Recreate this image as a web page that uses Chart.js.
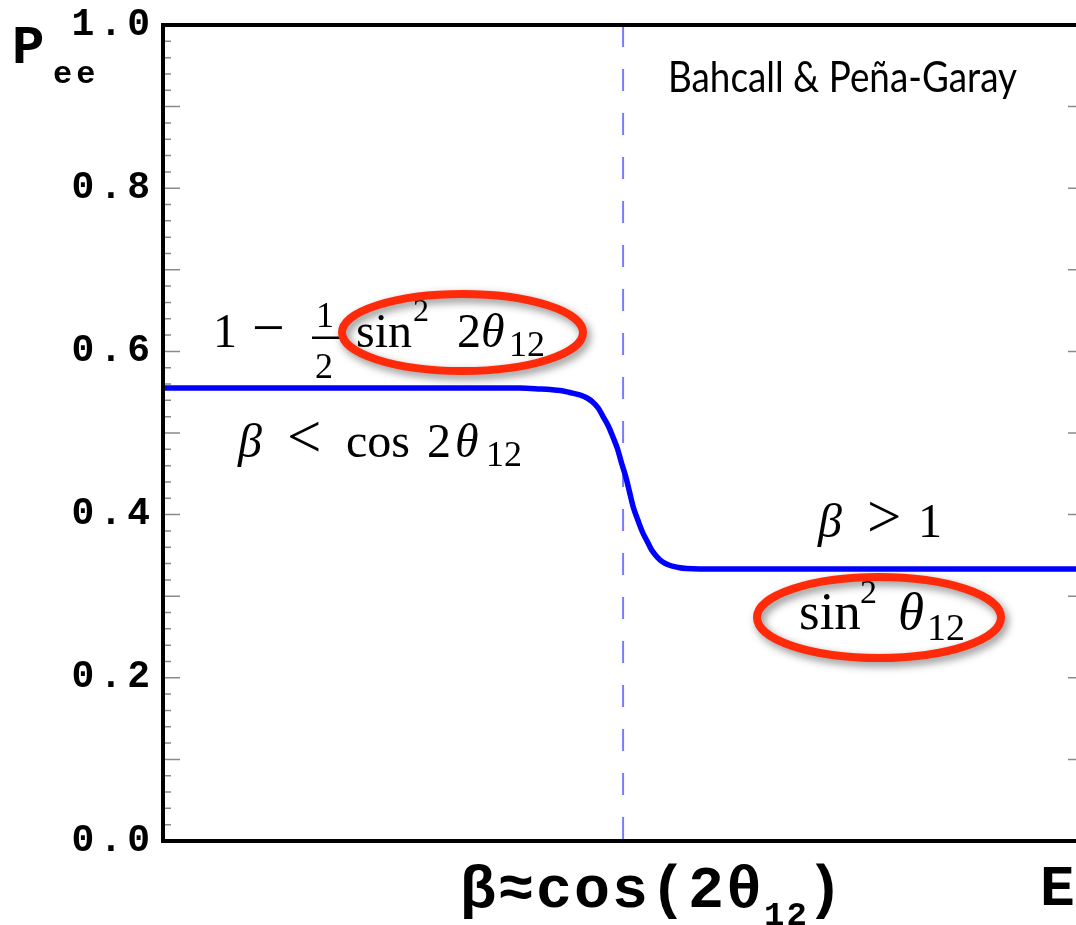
<!DOCTYPE html>
<html>
<head>
<meta charset="utf-8">
<script src="https://cdn.jsdelivr.net/npm/chart.js@4.4.1/dist/chart.umd.min.js"></script>
<style>
  html, body { margin: 0; padding: 0; background: #fff; overflow: hidden; }
  #wrap { width: 1095px; height: 925px; position: relative; }
</style>
</head>
<body>
<div id="wrap"><canvas id="c" width="1095" height="925"></canvas></div>
<script>
// ---- data ----
const curveX = [0, 25.8, 38.7, 40.9, 42.0, 43.1, 44.1, 45.2, 46.0, 46.6, 47.2, 47.7, 48.3, 48.8, 49.3, 49.7, 50.2, 50.6, 51.0, 51.5, 52.0, 52.5, 53.0, 53.6, 54.2, 55.0, 55.9, 56.8, 58.2, 64.8, 100];
const curveY = [0.555, 0.555, 0.555, 0.554, 0.5533, 0.5521, 0.5496, 0.5466, 0.5429, 0.538, 0.5306, 0.5208, 0.5086, 0.4951, 0.4804, 0.4645, 0.4461, 0.4277, 0.4093, 0.3934, 0.3787, 0.3676, 0.3566, 0.348, 0.3419, 0.3376, 0.3352, 0.3339, 0.3333, 0.3333, 0.3333];
const dashX = [49.9, 49.9];
const dashY = [1, 0];
const yTickLabels = ['0.0', '0.2', '0.4', '0.6', '0.8', '1.0'];

const curvePts = curveX.map((x, i) => ({ x: x, y: curveY[i] }));
const dashPts = dashX.map((x, i) => ({ x: x, y: dashY[i] }));

const SERIF = '"Liberation Serif", "Times New Roman", serif';
const MONO = '"Liberation Mono", "Courier New", monospace';

function txt(ctx, s, x, y, font) {
  ctx.font = font;
  ctx.fillText(s, x, y);
  return x + ctx.measureText(s).width;
}

const spacing = {
  id: 'spacing',
  beforeDraw(chart) { chart.ctx.letterSpacing = '5px'; },
  beforeDatasetsDraw(chart) { chart.ctx.letterSpacing = '0px'; }
};

const decor = {
  id: 'decor',
  afterDatasetsDraw(chart) {
    const ctx = chart.ctx;
    const ca = chart.chartArea;
    const ys = chart.scales.y;
    ctx.save();
    ctx.letterSpacing = '0px';
    // inner ticks (left and right)
    ctx.strokeStyle = '#8a8a8a';
    ctx.lineWidth = 1.5;
    ys.ticks.forEach(t => {
      const k = Math.round(t.value * 50);
      const py = ys.getPixelForValue(t.value);
      const len = (k % 5 === 0) ? 17 : 8;
      ctx.beginPath();
      ctx.moveTo(ca.left, py); ctx.lineTo(ca.left + len, py);
      ctx.moveTo(ca.right, py); ctx.lineTo(ca.right - len, py);
      ctx.stroke();
    });
    // frame
    ctx.strokeStyle = '#000';
    ctx.lineWidth = 4;
    ctx.strokeRect(ca.left, ca.top, ca.right - ca.left, ca.bottom - ca.top);

    ctx.fillStyle = '#000';
    ctx.textBaseline = 'alphabetic';
    ctx.textAlign = 'left';

    // axis titles
    txt(ctx, 'P', 12, 63, 'bold 54px ' + MONO);
    ctx.letterSpacing = '4px';
    txt(ctx, 'ee', 53, 83, 'bold 32px ' + MONO);
    ctx.letterSpacing = '2px';
    let x = txt(ctx, 'β≈cos(2θ', 460, 907, 'bold 60px ' + MONO);
    x = txt(ctx, '12', x, 925, 'bold 34px ' + MONO);
    txt(ctx, ')', x - 2, 907, 'bold 60px ' + MONO);
    ctx.letterSpacing = '0px';
    txt(ctx, 'E', 1040, 905, 'bold 58px ' + MONO);

    // credit (Gill-Sans-like narrow humanist face)
    ctx.save();
    ctx.font = '43px Lato, "Gill Sans", sans-serif';
    const w = ctx.measureText('Bahcall & Peña-Garay').width;
    ctx.translate(668, 92);
    ctx.scale(349 / w, 1);
    ctx.fillText('Bahcall & Peña-Garay', 0, 0);
    ctx.restore();

    // formula 1:  1 − (1/2) sin² 2θ12
    txt(ctx, '1', 213, 347, '48px ' + SERIF);
    txt(ctx, '−', 252, 347, '58px ' + SERIF);
    txt(ctx, '1', 316, 327, '36px ' + SERIF);
    ctx.fillRect(312, 336.5, 28, 2.5);
    txt(ctx, '2', 315, 378, '36px ' + SERIF);
    txt(ctx, 'sin', 356, 347, '48px ' + SERIF);
    txt(ctx, '2', 413, 321, '32px ' + SERIF);
    txt(ctx, '2', 457, 347, '48px ' + SERIF);
    txt(ctx, 'θ', 481, 347, 'italic 48px ' + SERIF);
    txt(ctx, '12', 509, 356, '36px ' + SERIF);

    // formula 2: β < cos 2θ12
    txt(ctx, 'β', 238, 457, 'italic 48px ' + SERIF);
    txt(ctx, '<', 287, 457, '61px ' + SERIF);
    txt(ctx, 'cos', 346, 457, '48px ' + SERIF);
    txt(ctx, '2', 427, 457, '48px ' + SERIF);
    txt(ctx, 'θ', 455, 457, 'italic 48px ' + SERIF);
    txt(ctx, '12', 486, 466, '36px ' + SERIF);

    // formula 3: β > 1
    txt(ctx, 'β', 818, 537, 'italic 48px ' + SERIF);
    txt(ctx, '>', 867, 537, '61px ' + SERIF);
    txt(ctx, '1', 918, 537, '48px ' + SERIF);

    // formula 4: sin² θ12
    txt(ctx, 'sin', 799, 629, '53px ' + SERIF);
    txt(ctx, '2', 860, 603, '34px ' + SERIF);
    txt(ctx, 'θ', 898, 629, 'italic 53px ' + SERIF);
    txt(ctx, '12', 927, 640, '38px ' + SERIF);

    // red ellipses with soft shadow
    ctx.strokeStyle = '#ff2a0a';
    ctx.lineWidth = 8;
    ctx.shadowColor = 'rgba(0,0,0,0.45)';
    ctx.shadowBlur = 8;
    ctx.shadowOffsetX = 3;
    ctx.shadowOffsetY = 4;
    ctx.beginPath();
    ctx.ellipse(462.5, 332.5, 120.5, 38.5, 0, 0, Math.PI * 2);
    ctx.stroke();
    ctx.beginPath();
    ctx.ellipse(879, 617.5, 122, 40.5, 0, 0, Math.PI * 2);
    ctx.stroke();
    ctx.restore();
  }
};

new Chart(document.getElementById('c'), {
  type: 'line',
  data: {
    datasets: [
      {
        data: curvePts,
        borderColor: '#0000ff',
        borderWidth: 5.5,
        pointRadius: 0,
        cubicInterpolationMode: 'monotone',
        fill: false
      },
      {
        data: dashPts,
        borderColor: 'rgba(100,100,255,0.85)',
        borderWidth: 2,
        borderDash: [22, 22],
        pointRadius: 0,
        fill: false
      }
    ]
  },
  options: {
    responsive: false,
    devicePixelRatio: 1,
    animation: false,
    layout: { padding: { left: 0, right: 10, top: 25, bottom: 0 } },
    plugins: { legend: { display: false }, tooltip: { enabled: false } },
    scales: {
      x: {
        type: 'linear', min: 0, max: 100,
        grid: { display: false, drawTicks: false },
        border: { display: false },
        ticks: { display: false },
        afterFit(s) { s.height = 84; s.paddingLeft = 0; s.paddingRight = 0; }
      },
      y: {
        type: 'linear', min: 0, max: 1,
        grid: { display: false, drawTicks: false },
        border: { display: false },
        ticks: {
          stepSize: 0.02,
          autoSkip: false,
          padding: 8,
          color: '#000',
          font: { family: 'Liberation Mono', size: 38, weight: 'bold' },
          callback(v) {
            const k = Math.round(v * 50);
            return (k % 10 === 0) ? yTickLabels[k / 10] : '';
          }
        },
        afterFit(s) { s.width = 163; s.paddingTop = 0; s.paddingBottom = 0; }
      }
    }
  },
  plugins: [spacing, decor]
});
</script>
</body>
</html>
